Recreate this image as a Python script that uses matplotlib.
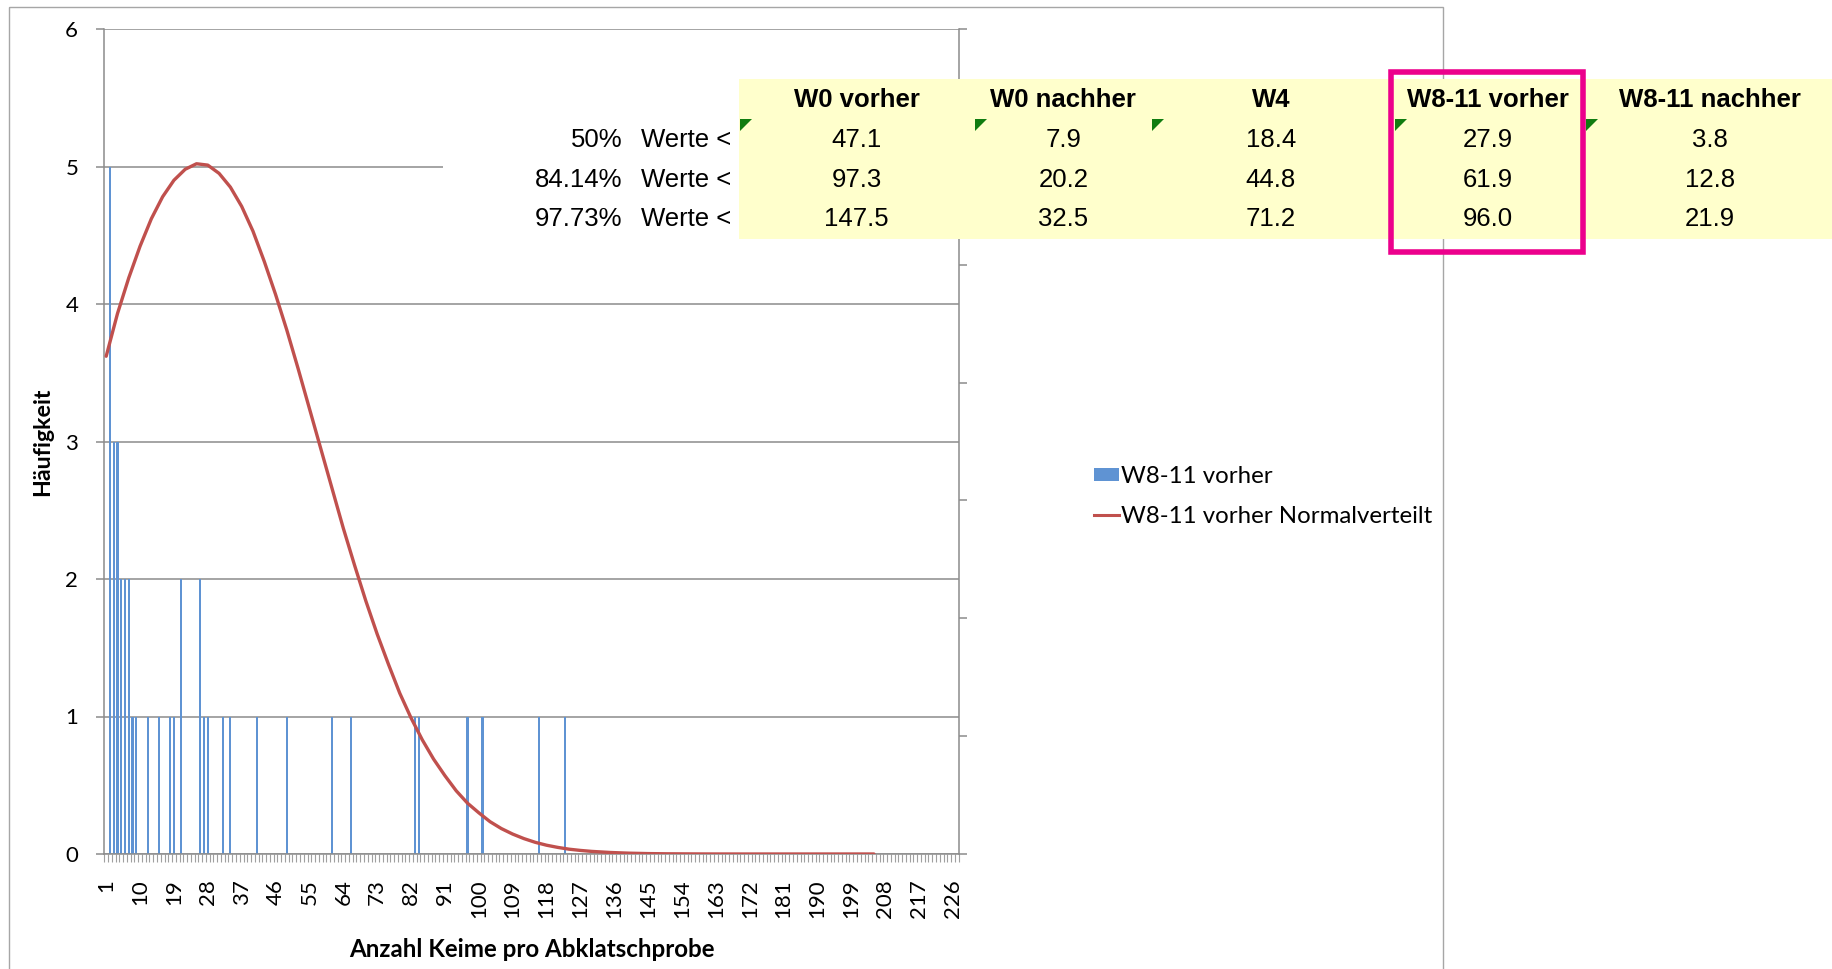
import matplotlib
matplotlib.use("Agg")
import matplotlib.pyplot as plt
from matplotlib.patches import Rectangle, Polygon, Patch
from matplotlib.lines import Line2D
from matplotlib.transforms import Affine2D, ScaledTranslation

# ---------------- data ----------------
x_tick_values = [1, 10, 19, 28, 37, 46, 55, 64, 73, 82, 91, 100, 109, 118, 127,
                 136, 145, 154, 163, 172, 181, 190, 199, 208, 217, 226]
n_categories = 227

bar_categories = [2, 3, 4, 5, 6, 7, 8, 9, 12, 15, 18, 19, 21, 26, 27, 28, 32, 34,
                  41, 49, 61, 66, 83, 84, 97, 101, 116, 123]
bar_counts = [5, 3, 3, 2, 2, 2, 1, 1, 1, 1, 1, 1, 2, 2, 1, 1, 1, 1,
              1, 1, 1, 1, 1, 1, 1, 1, 1, 1]

curve_x = [1, 4, 7, 10, 13, 16, 19, 22, 25, 28, 31, 34, 37, 40, 43, 46, 49, 52,
           55, 58, 61, 64, 67, 70, 73, 76, 79, 82, 85, 88, 91, 94, 97, 100, 103,
           106, 109, 112, 115, 118, 121, 124, 127, 130, 135, 140, 145, 150, 160,
           170, 180, 190, 200, 205]
curve_y = [3.62, 3.93, 4.19, 4.42, 4.62, 4.78, 4.90, 4.98, 5.02, 5.01, 4.95, 4.85,
           4.71, 4.53, 4.31, 4.07, 3.81, 3.53, 3.24, 2.95, 2.66, 2.37, 2.10, 1.84,
           1.60, 1.38, 1.17, 0.99, 0.83, 0.69, 0.57, 0.46, 0.37, 0.30, 0.235,
           0.185, 0.145, 0.112, 0.085, 0.064, 0.048, 0.035, 0.026, 0.019, 0.011,
           0.006, 0.003, 0.0015, 0.0003, 0.0, 0.0, 0.0, 0.0, 0.0]

series_bar_name = "W8-11 vorher"
series_curve_name = "W8-11 vorher Normalverteilt"

table_headers = ["W0 vorher", "W0 nachher", "W4", "W8-11 vorher", "W8-11 nachher"]
row_percentages = ["50%", "84.14%", "97.73%"]
row_text = "Werte <"
w0_vorher = [47.1, 97.3, 147.5]
w0_nachher = [7.9, 20.2, 32.5]
w4 = [18.4, 44.8, 71.2]
w8_11_vorher = [27.9, 61.9, 96.0]
w8_11_nachher = [3.8, 12.8, 21.9]
table_columns = [w0_vorher, w0_nachher, w4, w8_11_vorher, w8_11_nachher]

# ---------------- style ----------------
BAR_C = "#5F93D3"
RED = "#C0504D"
AXC = "#8C8C8C"
CHART_FONT = ["Lato", "DejaVu Sans"]
TABLE_FONT = ["Liberation Sans", "DejaVu Sans"]
TABLE_SIZE = 18.5

W, H = 1832, 969
fig = plt.figure(figsize=(W / 100, H / 100), dpi=100)
fig.patch.set_facecolor("white")
px = Affine2D().scale(1 / W, -1 / H).translate(0, 1) + fig.transFigure

L, R, T, B = 104.3, 958.6, 29.0, 854.0
ax = fig.add_axes([L / W, 1 - B / H, (R - L) / W, (B - T) / H])
ax.set_facecolor("none")

ax.bar(bar_categories, bar_counts, width=0.55, color=BAR_C, zorder=2)
ax.plot(curve_x, curve_y, color=RED, lw=2.4, zorder=3, solid_capstyle="round")

ax.set_xlim(0.5, n_categories + 0.5)
ax.set_ylim(0, 6)
ax.set_yticks(range(7))
ax.yaxis.grid(True, color=AXC, lw=1.1)
ax.set_axisbelow(True)
for s in ["top", "right"]:
    ax.spines[s].set_visible(False)
for s in ["left", "bottom"]:
    ax.spines[s].set_color(AXC)
    ax.spines[s].set_linewidth(1.1)

ax.set_xticks(x_tick_values)
ax.set_xticklabels([str(v) for v in x_tick_values], rotation=90,
                   family=CHART_FONT, fontsize=16)
shift = ScaledTranslation(2 / 100, 0, fig.dpi_scale_trans)
for lab in ax.get_xticklabels():
    lab.set_transform(lab.get_transform() + shift)
ax.set_xticks([c - 0.5 for c in range(1, n_categories + 2)], minor=True)
ax.tick_params(axis="x", which="major", length=0, pad=18)
ax.tick_params(axis="x", which="minor", length=5.8, color="#A0A0A0", width=0.8,
               direction="out")
ax.tick_params(axis="y", length=5.8, color=AXC, width=1.1, pad=13)
for lab in ax.get_yticklabels():
    lab.set_family(CHART_FONT)
    lab.set_fontsize(16)

ax2 = ax.twinx()
ax2.set_ylim(0, 7)
ax2.set_yticks(range(8))
ax2.set_yticklabels([])
ax2.tick_params(axis="y", length=5.8, color=AXC, width=1.1, direction="out")
for s in ["top", "left", "bottom"]:
    ax2.spines[s].set_visible(False)
ax2.spines["right"].set_color(AXC)
ax2.spines["right"].set_linewidth(1.1)

fig.text((L + R) / 2, 949.5, "Anzahl Keime pro Abklatschprobe", transform=px,
         ha="center", va="center", family=CHART_FONT, fontsize=17.4,
         fontweight="bold")
fig.text(43, (T + B) / 2, "Häufigkeit", transform=px, rotation=90,
         ha="center", va="center", family=CHART_FONT, fontsize=16.7,
         fontweight="bold")

handles = [Patch(facecolor=BAR_C, edgecolor="none"),
           Line2D([], [], color=RED, lw=2.2)]
ax.legend(handles, [series_bar_name, series_curve_name], loc="upper left",
          bbox_to_anchor=(1094 / W, 1 - 466 / H), bbox_transform=fig.transFigure,
          frameon=False, prop={"family": CHART_FONT, "size": 17.3},
          handlelength=1.02, handleheight=0.5, handletextpad=0.1,
          labelspacing=0.78, borderpad=0, borderaxespad=0)

# outer chart border
fig.patches.append(Rectangle((9, 7), 1434, 1000, transform=px, fill=False,
                             edgecolor="#A6A6A6", lw=1.0, zorder=0.5))

# ---------------- spreadsheet table overlay ----------------
fig.patches.append(Rectangle((443, 79), 739 - 443, 160, transform=px,
                             facecolor="white", edgecolor="none", zorder=1))
fig.patches.append(Rectangle((739, 79), W - 739 + 5, 160, transform=px,
                             facecolor="#FFFFCC", edgecolor="none", zorder=1))

col_x = [856.7, 1063.4, 1270.9, 1487.6, 1709.8]
row_base = [147.3, 186.7, 226.0]
header_base = 106.7

for cx, hdr, vals in zip(col_x, table_headers, table_columns):
    fig.text(cx, header_base, hdr, transform=px, ha="center", va="baseline",
             family=TABLE_FONT, fontsize=TABLE_SIZE, fontweight="bold", zorder=4)
    for rb, v in zip(row_base, vals):
        fig.text(cx, rb, f"{v:.1f}", transform=px, ha="center", va="baseline",
                 family=TABLE_FONT, fontsize=TABLE_SIZE, zorder=4)

for rb, pct in zip(row_base, row_percentages):
    fig.text(622.5, rb, pct, transform=px, ha="right", va="baseline",
             family=TABLE_FONT, fontsize=TABLE_SIZE, zorder=4)
    fig.text(640.6, rb, row_text, transform=px, ha="left", va="baseline",
             family=TABLE_FONT, fontsize=TABLE_SIZE, zorder=4)

for tx in [740, 975, 1152, 1395, 1586]:
    fig.patches.append(Polygon([(tx, 119), (tx + 12, 119), (tx, 131)],
                               closed=True, transform=px, facecolor="#107C10",
                               edgecolor="none", zorder=3))

fig.patches.append(Rectangle((1391, 72), 1582.6 - 1391, 252 - 72, transform=px,
                             fill=False, edgecolor="#EC008C", lw=4.0, zorder=5))

fig.savefig("out.png", dpi=100, facecolor="white")
